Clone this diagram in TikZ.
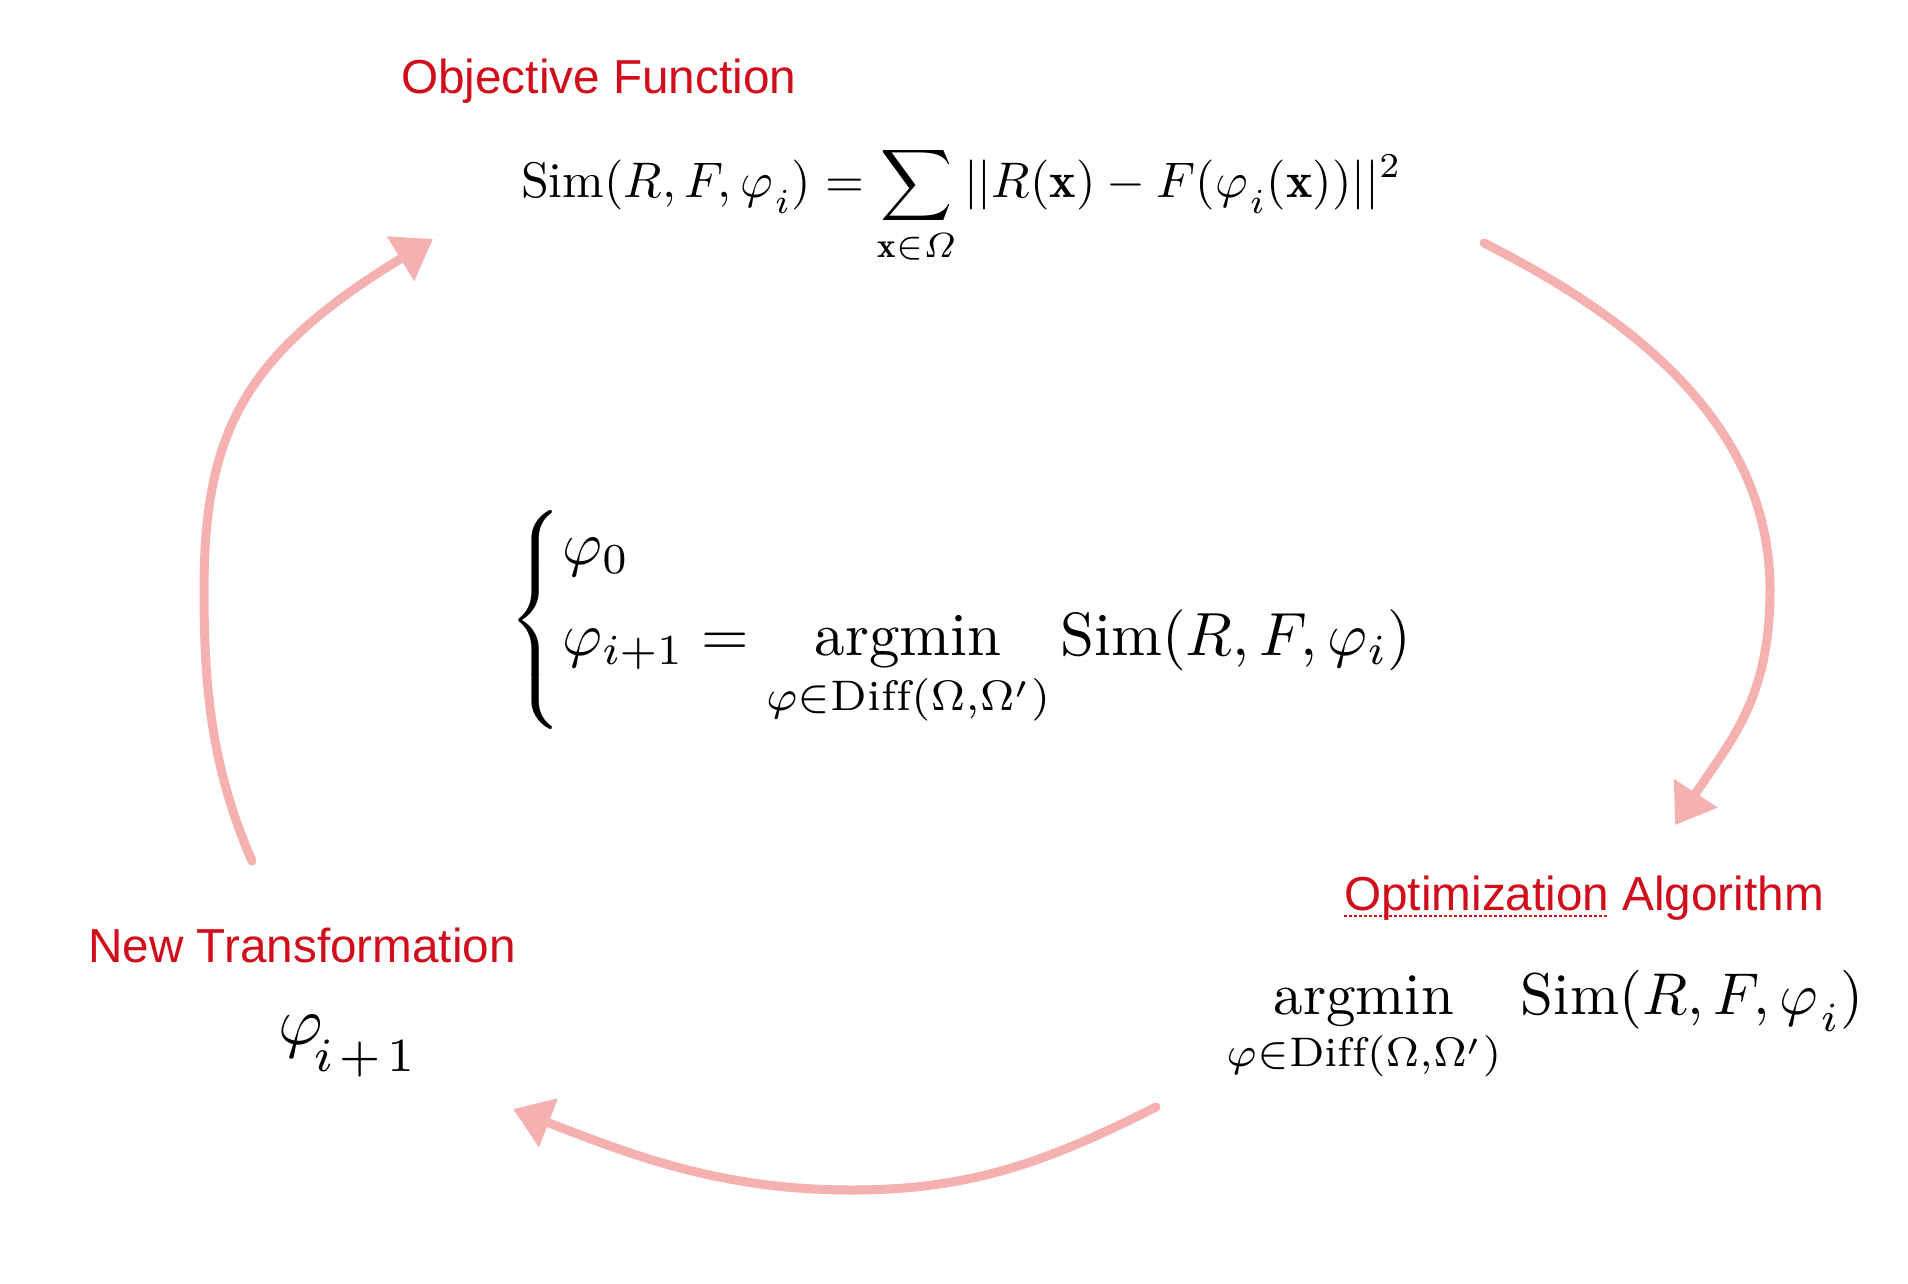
\documentclass[tikz,border=0pt]{standalone}
\usepackage{amsmath}
\usepackage{fontspec}
\newfontfamily\arialf{Liberation Sans}
\usetikzlibrary{arrows.meta}
\definecolor{labred}{RGB}{209,13,27}
\definecolor{chalk}{RGB}{245,176,176}
\newcommand{\lsub}[2][0.15em]{_{\raisebox{-#1}{$\scriptstyle\mkern1mu #2$}}}
\begin{document}
\begin{tikzpicture}[x=1pt,y=-1pt,
  lab/.style={text=labred, font=\arialf\fontsize{47.7}{57}\selectfont, inner sep=0pt, anchor=base west},
  eq/.style={inner sep=0pt},
  chalkarrow/.style={draw=chalk, line width=9pt, line cap=round, -{Triangle[length=38pt,width=50pt]}}]
\useasboundingbox (0,0) rectangle (1908,1284);

% labels
\node[lab] (objlab) at (401,94) {Objective Function};
\node[lab] (newlab) at (88,962) {New Transformation};
\node[lab] (optlab) at (1344,910) {Optimization Algorithm};
\draw[labred, line width=2.5pt, dash pattern=on 2.5pt off 2.5pt] (optlab.base west) ++(0,6) -- ++(264,0);

% formulas
\node[eq, scale=5.0, anchor=base west] (obj) at (520,198) {%
  $\displaystyle \mathrm{Sim}(R,F,\varphi\lsub{i}) = \sum_{\mathbf{x}\in\varOmega} ||R(\mathbf{x}) - F(\varphi\lsub{i}(\mathbf{x}))||^2$};

\node[eq, scale=6.1, anchor=west] (center) at (507,620) {%
  $\left\{\begin{array}{@{}l@{}} \varphi_0\\[0.3em]
  \varphi_{i+1} = \displaystyle\operatorname*{argmin}_{\varphi\in\mathrm{Diff}(\Omega,\Omega')} \mathrm{Sim}(R,F,\varphi_i)
  \end{array}\right.$};

\node[eq, scale=5.9, anchor=base west] (opt) at (1225,1014) {%
  $\displaystyle\operatorname*{argmin}_{\varphi\in\mathrm{Diff}(\Omega,\Omega')}\, \mathrm{Sim}(R,F,\varphi\lsub{i})$};

\node[eq, scale=6.8, anchor=base west] (newt) at (277,1044) {%
  $\varphi_{\raisebox{-0.25em}{$\scriptstyle\mkern-3mu i\mkern2mu+\mkern2mu1$}}$};

% arrows
\coordinate (l0) at (252,861);
\coordinate (l1) at (433,239);
\coordinate (r0) at (1484,243);
\coordinate (r1) at (1675,825);
\coordinate (b0) at (1156,1107);
\coordinate (b1) at (513,1109);

\draw[chalkarrow] (l0) .. controls (212,769) and (204,690) .. (204,590)
                       .. controls (204,430) and (246,353) .. (l1);
\draw[chalkarrow] (r0) .. controls (1626,315) and (1770,420) .. (1770,590)
                       .. controls (1770,700) and (1730,741) .. (r1);
\draw[chalkarrow] (b0) .. controls (1049,1161) and (972,1190) .. (852,1190)
                       .. controls (722,1190) and (634,1156) .. (b1);
\end{tikzpicture}
\end{document}
